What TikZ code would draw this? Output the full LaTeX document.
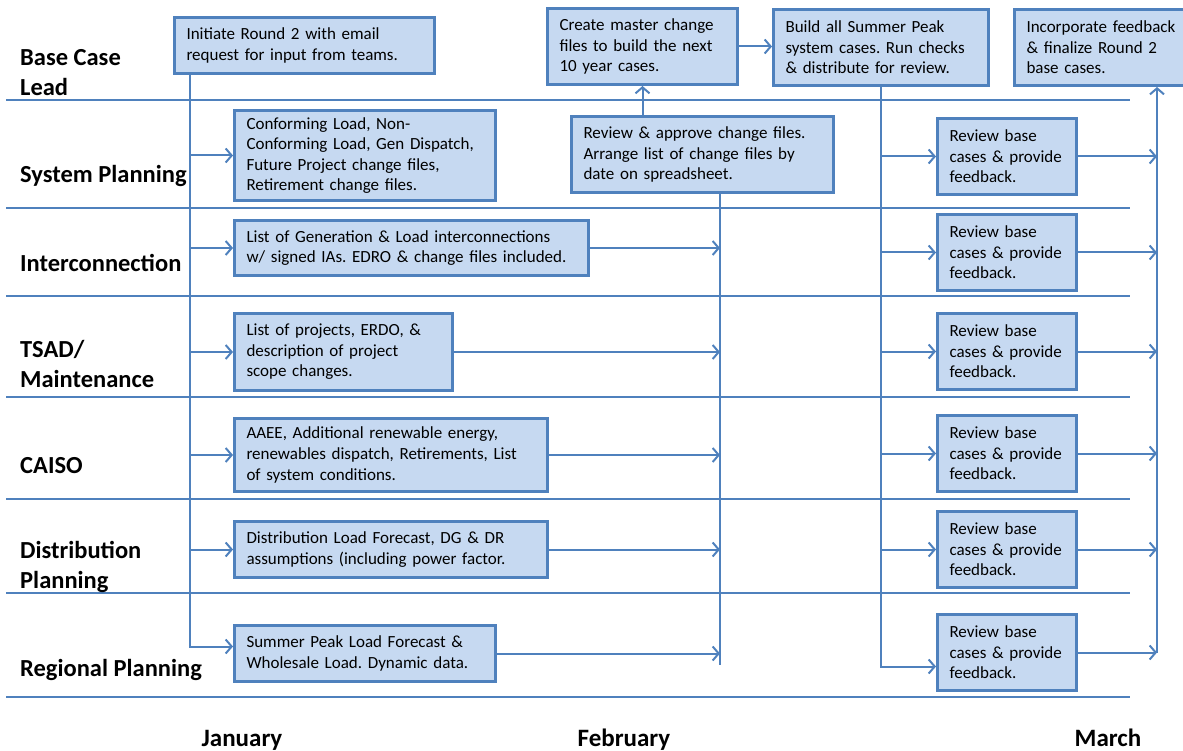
\documentclass[tikz,border=0pt]{standalone}
\usepackage{fontspec}
\setmainfont{Carlito}
\usetikzlibrary{arrows.meta,calc}
\definecolor{laneblue}{HTML}{4F81BD}
\definecolor{boxfill}{HTML}{C6D9F1}
\frenchspacing

\begin{document}
\begin{tikzpicture}[x=1pt, y=-1pt, >={Straight Barb[length=6pt,width=14pt]},
  task/.style={draw=laneblue, fill=boxfill, line width=3pt, anchor=north west, align=left, inner xsep=12pt, inner ysep=0pt, font=\fontsize{17}{20.6}\selectfont},
  lane/.style={anchor=west, inner sep=0pt, align=left, font=\fontsize{24.5}{30}\selectfont\bfseries},
  month/.style={anchor=base, inner sep=0pt, font=\fontsize{25}{30}\selectfont\bfseries},
  flow/.style={draw=laneblue, line width=2pt, ->},
  sep/.style={draw=laneblue, line width=1.3pt}]
  \useasboundingbox (0,0) rectangle (1183,751);
  % swimlane separators
  \foreach \y in {100,208,296,397,499,593,697}
    \draw[sep] (6,\y) -- (1130,\y);
  % lane titles
  \node[lane] (lead) at (20,73) {Base Case\\Lead};
  \node[lane] (sysp) at (20,176) {System Planning};
  \node[lane] (intc) at (20,263) {Interconnection};
  \node[lane] (tsad) at (20,364) {TSAD/\\Maintenance};
  \node[lane] (caiso) at (20,466) {CAISO};
  \node[lane] (distp) at (20,567) {Distribution\\Planning};
  \node[lane] (regp) at (20,670) {Regional Planning};
  % months
  \node[month] (jan) at (242,746) {January};
  \node[month] (feb) at (624,746) {February};
  \node[month] (mar) at (1108,746) {March};
  % base case lead
  \node[task, text width=236pt, minimum height=56pt] (init) at (173,16) {Initiate Round 2 with email\\request for input from teams.};
  \node[task, text width=166pt, minimum height=76pt] (master) at (546,7) {Create master change\\files to build the next\\10 year cases.};
  \node[task, text width=191pt, minimum height=76pt] (build) at (772,8) {Build all Summer Peak\\system cases. Run checks\\\& distribute for review.};
  \node[task, text width=154pt, minimum height=76pt] (final) at (1013,8) {Incorporate feedback\\\& finalize Round 2\\base cases.};
  % team inputs
  \node[task, text width=237pt, minimum height=90pt] (conf) at (233,109) {Conforming Load, Non-\\Conforming Load, Gen Dispatch,\\Future Project change files,\\Retirement change files.};
  \node[task, text width=238pt, minimum height=76pt] (revw) at (570,115) {Review \& approve change files.\\Arrange list of change files by\\date on spreadsheet.};
  \node[task, text width=330pt, minimum height=55pt] (gen) at (233,219) {List of Generation \& Load interconnections\\w/ signed IAs. EDRO \& change files included.};
  \node[task, text width=194pt, minimum height=77pt] (proj) at (233,312) {List of projects, ERDO, \&\\description of project\\scope changes.};
  \node[task, text width=289pt, minimum height=73pt] (aaee) at (233,417) {AAEE, Additional renewable energy,\\renewables dispatch, Retirements, List\\of system conditions.};
  \node[task, text width=289pt, minimum height=56pt] (dist) at (233,520) {Distribution Load Forecast, DG \& DR\\assumptions (including power factor.};
  \node[task, text width=237pt, minimum height=56pt] (peak) at (233,624) {Summer Peak Load Forecast \&\\Wholesale Load. Dynamic data.};
  % reviews
  \foreach \n/\y in {rv1/117, rv2/213, rv3/312, rv4/414, rv5/510, rv6/613}
    \node[task, text width=115pt, minimum height=76pt] (\n) at (936,\y) {Review base\\cases \& provide\\feedback.};
  % January fan-out
  \coordinate (jbot) at (190,645);
  \draw[flow] (init.south -| jbot) |- ([yshift=7pt]peak.west);
  \foreach \n in {conf,gen,proj,aaee,dist}
    \draw[flow] (\n.west -| jbot) -- (\n.west);
  % February collection
  \coordinate (fbot) at (720,665);
  \draw[flow, -] (revw.south -| fbot) -- (fbot);
  \foreach \n in {gen,proj,aaee,dist,peak}
    \draw[flow] (\n.east) -- (\n.east -| fbot);
  \draw[flow] (revw.north -| master.south) -- (master.south);
  \draw[flow] (master.east) -- (master.east -| build.west);
  % March review loop
  \draw[flow] (build.south) |- ([yshift=-14pt]rv6.west);
  \foreach \n in {rv1,rv2,rv3,rv4,rv5}
    \draw[flow] (\n.west -| build.south) -- (\n.west);
  \coordinate (mtr) at (1157,0);
  \draw[flow] (rv6.east -| mtr) -- (final.south -| mtr);
  \foreach \n in {rv1,rv2,rv3,rv4,rv5,rv6}
    \draw[flow] (\n.east) -- (\n.east -| mtr);
\end{tikzpicture}
\end{document}
